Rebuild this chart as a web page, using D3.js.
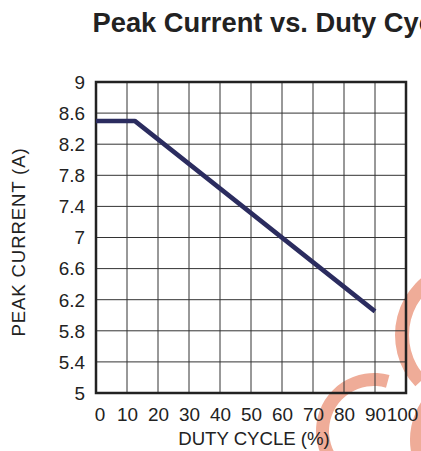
<!DOCTYPE html>
<html>
<head>
<meta charset="utf-8">
<script src="https://cdn.jsdelivr.net/npm/d3@7"></script>
<style>
  body { margin: 0; background: #fff; }
  svg { display: block; font-family: "Liberation Sans", Arial, sans-serif; }
</style>
</head>
<body>
<div id="chart"></div>
<script>
// values
const dutyCycle = [0, 12.5, 90];
const peakCurrent = [8.5, 8.5, 6.05];
const xTicks = [0, 10, 20, 30, 40, 50, 60, 70, 80, 90, 100];
const yTicks = [5, 5.4, 5.8, 6.2, 6.6, 7, 7.4, 7.8, 8.2, 8.6, 9];
const yTickLabels = ["5", "5.4", "5.8", "6.2", "6.6", "7", "7.4", "7.8", "8.2", "8.6", "9"];

const width = 421, height = 451;
const plotLeft = 96, plotRight = 406, plotTop = 82, plotBottom = 393;
const stretch = 1.08; // tick digits in the original are a bit wide

const svg = d3.select("#chart")
  .append("svg")
  .attr("width", width)
  .attr("height", height);

// watermark arcs behind the chart
const wm = svg.append("g").attr("fill", "#efac98");
const arc = d3.arc();
wm.append("path")
  .attr("transform", "translate(374, 431)")
  .attr("d", arc({ innerRadius: 45, outerRadius: 58, startAngle: -Math.PI, endAngle: 0.27 }));
wm.append("path")
  .attr("transform", "translate(470, 335)")
  .attr("d", arc({ innerRadius: 61, outerRadius: 75, startAngle: -Math.PI * 0.74, endAngle: -Math.PI * 0.1 }));
wm.append("path")
  .attr("transform", "translate(480, 440)")
  .attr("d", arc({ innerRadius: 56, outerRadius: 70, startAngle: -Math.PI * 0.9, endAngle: -Math.PI * 0.2 }));

let xScale = d3.scaleLinear().domain([0, 100]).range([plotLeft, plotRight]);
let yScale = d3.scaleLinear().domain([5, 9]).range([plotBottom, plotTop]);

// grid
svg.selectAll("line.vgrid")
  .data(xTicks.slice(1, -1))
  .enter()
  .append("line")
  .attr("class", "vgrid")
  .attr("x1", d => xScale(d))
  .attr("x2", d => xScale(d))
  .attr("y1", plotTop)
  .attr("y2", plotBottom)
  .style("stroke", "#333")
  .style("stroke-width", 1);

svg.selectAll("line.hgrid")
  .data(yTicks.slice(1, -1))
  .enter()
  .append("line")
  .attr("class", "hgrid")
  .attr("x1", plotLeft)
  .attr("x2", plotRight)
  .attr("y1", d => yScale(d))
  .attr("y2", d => yScale(d))
  .style("stroke", "#333")
  .style("stroke-width", 1);

// frame
svg.append("rect")
  .attr("x", plotLeft)
  .attr("y", plotTop)
  .attr("width", plotRight - plotLeft)
  .attr("height", plotBottom - plotTop)
  .attr("fill", "none")
  .attr("stroke", "#222")
  .attr("stroke-width", 2.5);

// axes (labels only)
let xAxis = d3.axisBottom(xScale)
  .tickValues(xTicks)
  .tickSize(0)
  .tickPadding(0)
  .tickFormat(d3.format("d"));

let gx = svg.append("g")
  .attr("transform", `translate(0, ${plotBottom})`)
  .call(xAxis);
gx.select(".domain").remove();
gx.selectAll("text")
  .attr("y", 28)
  .attr("dy", 0)
  .attr("x", (d, i) => (i === 0 ? 3.5 : (i === xTicks.length - 1 ? -4 : 0)) / stretch)
  .attr("transform", `scale(${stretch}, 1)`)
  .style("font-size", "17.5px")
  .style("font-family", "Liberation Sans, Arial, sans-serif")
  .style("fill", "#222");

let yAxis = d3.axisLeft(yScale)
  .tickValues(yTicks)
  .tickSize(0)
  .tickPadding(11)
  .tickFormat((d, i) => yTickLabels[i]);

let gy = svg.append("g")
  .attr("transform", `translate(${plotLeft}, 0)`)
  .call(yAxis);
gy.select(".domain").remove();
gy.selectAll("text")
  .attr("x", -11 / stretch)
  .attr("dy", "0.36em")
  .attr("transform", `scale(${stretch}, 1)`)
  .style("font-size", "17.5px")
  .style("font-family", "Liberation Sans, Arial, sans-serif")
  .style("fill", "#222");

// data line
const points = dutyCycle.map((d, i) => ({ x: d, y: peakCurrent[i] }));
let line = d3.line()
  .x(d => xScale(d.x))
  .y(d => yScale(d.y));

svg.append("path")
  .datum(points)
  .attr("fill", "none")
  .attr("stroke", "#2b2c5f")
  .attr("stroke-width", 4.5)
  .attr("stroke-linejoin", "round")
  .attr("d", line);

// titles
svg.append("text")
  .attr("x", 92.5)
  .attr("y", 32)
  .style("font-size", "27.3px")
  .style("font-weight", "bold")
  .style("fill", "#222")
  .text("Peak Current vs. Duty Cycle");

svg.append("text")
  .attr("x", 254)
  .attr("y", 445)
  .attr("text-anchor", "middle")
  .style("font-size", "18.6px")
  .style("fill", "#222")
  .text("DUTY CYCLE (%)");

svg.append("text")
  .attr("transform", "translate(25, 242) rotate(-90)")
  .attr("text-anchor", "middle")
  .style("font-size", "18.6px")
  .style("letter-spacing", "0.85px")
  .style("fill", "#222")
  .text("PEAK CURRENT (A)");
</script>
</body>
</html>
